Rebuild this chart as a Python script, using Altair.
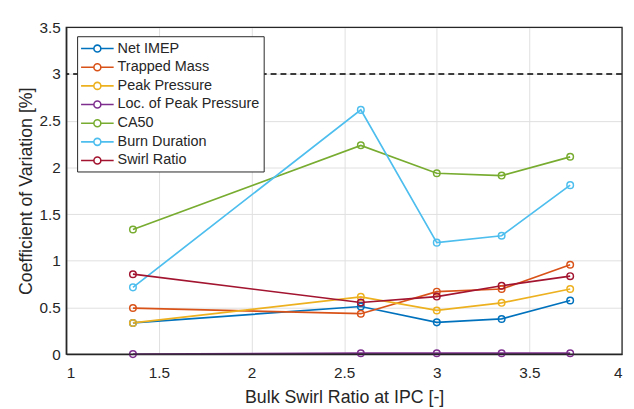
import altair as alt
import pandas as pd

x_vals = [1.36, 2.59, 3.0, 3.35, 3.72]
series_names = ["Net IMEP", "Trapped Mass", "Peak Pressure", "Loc. of Peak Pressure",
                "CA50", "Burn Duration", "Swirl Ratio"]
net_imep = [0.334, 0.51, 0.34, 0.377, 0.574]
trapped_mass = [0.493, 0.433, 0.669, 0.697, 0.958]
peak_pressure = [0.334, 0.613, 0.468, 0.549, 0.697]
loc_peak = [0.0, 0.01, 0.01, 0.01, 0.01]
ca50 = [1.335, 2.236, 1.937, 1.912, 2.113]
burn_duration = [0.715, 2.616, 1.194, 1.268, 1.81]
swirl_ratio = [0.856, 0.553, 0.616, 0.732, 0.835]
colors = ["#0072BD", "#D95319", "#EDB120", "#7E2F8E", "#77AC30", "#4DBEEE", "#A2142F"]
limit_value = [3.0]

all_series = [net_imep, trapped_mass, peak_pressure, loc_peak, ca50, burn_duration, swirl_ratio]
rows = []
for name, vals in zip(series_names, all_series):
    for i, (xv, yv) in enumerate(zip(x_vals, vals)):
        rows.append({"x": xv, "y": yv, "series": name, "order": i})
df = pd.DataFrame(rows)

font = "Liberation Sans"
txt = "#262626"
W, H = 563, 331

xs = alt.Scale(domain=[1, 4], nice=False)
ys = alt.Scale(domain=[0, 3.5], nice=False)
color_scale = alt.Scale(domain=series_names, range=colors)

sym = "M-1.13,0H0.6M1.54,0H3.27M0.6,0A0.47,0.47,0,1,1,1.54,0A0.47,0.47,0,1,1,0.6,0"
legend = alt.Legend(orient="none", legendX=11, legendY=9,
                    symbolType=sym, symbolSize=225, symbolStrokeWidth=1.6,
                    symbolFillColor="transparent",
                    labelFontSize=14.6, labelFont=font, labelColor=txt,
                    labelOffset=20, rowPadding=2.9,
                    padding=4, strokeColor=txt, fillColor="white",
                    cornerRadius=0, labelLimit=300)
color_enc = alt.Color("series:N", scale=color_scale, title=None, legend=legend)

xenc = alt.X("x:Q", scale=xs, title="Bulk Swirl Ratio at IPC [-]",
             axis=alt.Axis(values=[1, 1.5, 2, 2.5, 3, 3.5, 4], format="~g"))
yenc = alt.Y("y:Q", scale=ys, title="Coefficient of Variation [%]",
             axis=alt.Axis(values=[0, 0.5, 1, 1.5, 2, 2.5, 3, 3.5], format="~g"))

limit = alt.Chart(pd.DataFrame({"y": limit_value})).mark_rule(
    color="black", strokeDash=[6, 4], strokeWidth=1.6
).encode(y=alt.Y("y:Q", scale=ys))

lines = alt.Chart(df).mark_line(strokeWidth=1.7, clip=False).encode(
    x=xenc, y=yenc, color=color_enc,
    detail="series:N", order="order:Q",
)

points = alt.Chart(df).mark_point(filled=False, size=44, strokeWidth=1.5, opacity=1, clip=False).encode(
    x=alt.X("x:Q", scale=xs), y=alt.Y("y:Q", scale=ys), color=color_enc,
)

frame = alt.Chart(pd.DataFrame({"a": [0]})).mark_rect(
    fill=None, stroke=txt, strokeWidth=1.3
).encode(x=alt.value(0), x2=alt.value(W), y=alt.value(0), y2=alt.value(H))

chart = alt.layer(limit, lines, points, frame).properties(
    width=W, height=H,
    autosize=alt.AutoSizeParams(type="none"),
    padding={"left": 59, "top": 17, "right": 4, "bottom": 53},
    background="white",
).configure_view(stroke=None).configure_axis(
    labelFont=font, titleFont=font, labelFontSize=15.5, titleFontSize=18,
    labelColor=txt, titleColor=txt, titleFontWeight="normal",
    gridColor="#e0e0e0", gridWidth=1, domainColor=txt, domainWidth=1.3,
    tickColor=txt, tickSize=0,
).configure_axisY(titlePadding=4, labelPadding=6).configure_axisX(titlePadding=8, labelPadding=12)

chart.save("out.html", embed_options={"renderer": "svg", "actions": False})
